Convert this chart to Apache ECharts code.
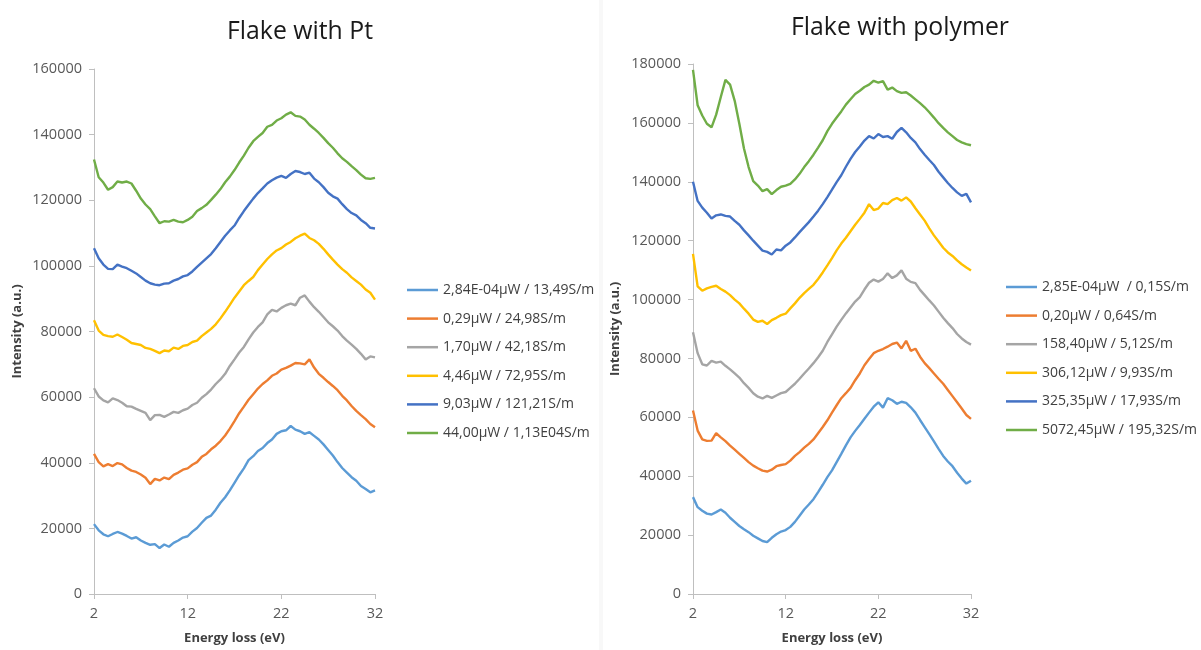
<!DOCTYPE html>
<html>
<head>
<meta charset="utf-8">
<script src="https://cdn.jsdelivr.net/npm/echarts@6/dist/echarts.min.js"></script>
<style>
html,body{margin:0;padding:0;background:#fff;}
#chart{width:1201px;height:650px;}
</style>
</head>
<body>
<div id="chart"></div>
<script>
// Energy loss (eV)
const energy = [2,2.5,3,3.5,4,4.5,5,5.5,6,6.5,7,7.5,8,8.5,9,9.5,10,10.5,11,11.5,12,12.5,13,13.5,14,14.5,15,15.5,16,16.5,17,17.5,18,18.5,19,19.5,20,20.5,21,21.5,22,22.5,23,23.5,24,24.5,25,25.5,26,26.5,27,27.5,28,28.5,29,29.5,30,30.5,31,31.5,32];
const xTicks = [2, 12, 22, 32];

// Left panel: Flake with Pt
const ptNames = ["2,84E-04µW / 13,49S/m","0,29µW / 24,98S/m","1,70µW / 42,18S/m","4,46µW / 72,95S/m","9,03µW / 121,21S/m","44,00µW / 1,13E04S/m"];
const pt1 = [21300,19400,18200,17600,18300,18900,18400,17700,16900,17300,16300,15600,15000,15200,14000,15100,14400,15600,16300,17200,17600,19000,20100,21700,23200,23900,25700,27800,29500,31600,33900,36200,38300,40800,42000,43600,44500,46000,47100,48800,49600,49900,51200,50100,49600,48800,49300,48200,47100,45600,43900,42200,40200,38400,37000,35600,34500,32900,32000,31000,31600];
const pt2 = [42700,40200,38900,39600,39000,39900,39500,38400,37600,37200,36400,35400,33500,35100,34600,35500,35000,36300,37000,37900,38300,39400,40200,41800,42700,44100,45200,46600,48300,50400,52700,55100,57100,59200,60900,62600,64000,65100,66500,67200,68400,68900,69600,70400,70300,70000,71500,69000,67100,65900,64600,63400,62100,60400,59000,57300,55800,54500,53300,51800,50800];
const pt3 = [62700,60200,59000,58400,59600,59100,58300,57200,57100,56400,55800,55200,53000,54500,54600,54000,54700,55500,55200,56000,56500,57600,58300,59800,60900,62300,64000,65400,67100,69500,71500,73600,75300,77600,79700,81400,82800,85200,86600,86100,87200,88000,88500,88000,90300,91000,89100,87400,86000,84400,82800,81600,80300,78600,77200,76000,74700,73200,71500,72400,72100];
const pt4 = [83400,80300,79000,78600,78400,79100,78300,77500,76500,76200,75900,75000,74700,74100,73400,74200,74000,75100,74700,75600,75900,76800,77200,78600,79700,80800,82200,84000,86000,88100,90300,92200,94100,95400,96600,98700,100400,102100,103500,104700,105400,106500,107300,108400,109200,109800,108500,107800,106700,105200,103500,101900,100400,99000,97900,96500,95400,94300,92800,91800,89700];
const pt5 = [105400,102300,100400,99100,99000,100400,99800,99300,98500,97700,96600,95500,94700,94300,94100,94600,94700,95500,96000,96800,97200,98300,99700,101000,102300,103600,105400,107300,109200,110800,112300,114600,116700,118600,120500,122200,123600,125100,126100,126900,127400,126800,128000,128900,128600,128000,128400,126600,125500,124000,122300,121200,120500,118800,117300,116100,115400,114000,113000,111600,111400];
const pt6 = [132400,127000,125400,123200,124000,125700,125400,125700,125100,122900,120500,118700,117300,115100,113000,113600,113500,114000,113500,113300,114000,115000,116700,117600,118600,120100,121700,123400,125500,127200,129200,131500,133600,136000,138000,139300,140500,142400,143000,144300,145000,146100,146800,145700,145500,144600,143000,141800,140500,139000,137400,136000,134300,132800,131700,130400,129200,127800,126700,126500,126800];

// Right panel: Flake with polymer
const polyNames = ["2,85E-04µW  / 0,15S/m","0,20µW / 0,64S/m","158,40µW / 5,12S/m","306,12µW / 9,93S/m","325,35µW / 17,93S/m","5072,45µW / 195,32S/m"];
const po1 = [32900,29500,28300,27300,27000,27800,28700,27600,25900,24500,23100,22000,21000,19800,18900,18000,17600,19100,20300,21200,21700,22800,24500,26600,28700,30400,32200,34600,37100,39700,42000,44800,47600,50500,53200,55400,57400,59500,61600,63600,65100,63300,66500,65800,64600,65300,64900,63400,61600,59100,56700,54300,51800,49300,46900,45000,43400,41200,39200,37500,38500];
const po2 = [62300,55500,52500,52000,52100,54600,53200,51900,50400,49000,47600,46200,44800,43600,42700,41900,41600,42200,43400,43800,44100,45300,46900,48200,49700,51000,52500,54600,56700,59000,61600,64100,66500,68200,70000,72600,74900,77700,79800,81800,82600,83200,84000,84900,85400,83400,86000,82600,83300,80600,78400,76700,74900,73100,71400,69300,67200,65100,63000,60800,59500];
const po3 = [88900,81800,78000,77600,79200,78600,78900,77500,76300,74900,73500,71600,70000,68200,67000,66400,67300,66600,67400,68200,68600,70000,71400,73100,74900,76600,78400,80400,82600,85600,88200,90800,93100,95300,97300,99300,100800,103400,105700,106800,106100,107000,108900,107300,108200,109900,107100,106000,105600,103300,101500,99700,98000,95900,93800,92000,90300,88300,86800,85600,84700];
const po4 = [115500,104500,103000,103800,104300,104700,103600,102700,101500,100000,98700,96900,95200,93200,92400,92800,91700,93000,93800,94700,95200,97000,98700,100600,102200,103600,105000,107000,109200,111600,114100,116700,119000,121000,123200,125400,127400,129500,132400,130400,130900,132800,132400,133800,134500,133600,134700,133300,131000,128900,126800,124200,121800,119700,117600,116000,114800,113300,112000,110900,109900];
const po5 = [140000,133500,131200,129500,127500,128600,128900,128400,128200,126700,125400,123500,121800,120000,118300,116600,116200,115300,117000,116700,118300,119400,121100,122900,124600,126300,128200,130200,132400,134800,137300,139900,142200,145100,147800,150100,152000,154000,155500,154700,156200,155200,155500,154600,156900,158300,156800,154900,153400,151100,149200,147400,145700,143400,141500,139600,137900,136400,135200,135900,133000];
const po6 = [178000,166000,162500,159700,158500,162800,168800,174600,173000,167500,159700,151300,145000,140200,138700,136800,137500,135800,137200,138300,138700,139300,140800,142700,145000,147000,149200,151600,154100,157200,159700,161800,163900,166200,168000,169800,170900,172200,173000,174300,173700,174200,171300,172000,170800,170200,170400,169300,168000,166700,165300,163600,161800,159900,158300,156800,155500,154200,153400,152800,152400];

const colors = ["#5B9BD5","#ED7D31","#A5A5A5","#FFC000","#4472C4","#70AD47"];
const FONT = "'Open Sans', sans-serif";

const ptSeries = [pt1,pt2,pt3,pt4,pt5,pt6];
const polySeries = [po1,po2,po3,po4,po5,po6];

function mkSeries(names, arrs, idx) {
  return arrs.map((vals, i) => ({
    name: names[i],
    type: 'line',
    xAxisIndex: idx,
    yAxisIndex: idx,
    symbol: 'none',
    smooth: false,
    data: energy.map((e, k) => [e, vals[k]]),
    lineStyle: { width: 2.4, color: colors[i] },
    itemStyle: { color: colors[i] },
    emphasis: { disabled: true },
    z: 2
  }));
}

function xAx(gi) {
  return {
    type: 'value', gridIndex: gi, min: 2, max: 32,
    name: 'Energy loss (eV)', nameLocation: 'middle', nameGap: 38,
    nameTextStyle: { fontFamily: FONT, fontSize: 13, fontWeight: 'bold', color: '#404040' },
    axisLine: { show: true, onZero: false, lineStyle: { color: '#bfbfbf', width: 1 } },
    axisTick: { show: true, customValues: xTicks, length: 5, lineStyle: { color: '#bfbfbf' } },
    axisLabel: { customValues: xTicks, fontFamily: FONT, fontSize: 14.5, color: '#595959', margin: 12 },
    splitLine: { show: false }
  };
}
function yAx(gi, max, gap) {
  return {
    type: 'value', gridIndex: gi, min: 0, max: max, interval: 20000,
    name: 'Intensity (a.u.)', nameLocation: 'middle', nameGap: gap, nameRotate: 90,
    nameTextStyle: { fontFamily: FONT, fontSize: 13, fontWeight: 'bold', color: '#404040' },
    axisLine: { show: true, lineStyle: { color: '#bfbfbf', width: 1 } },
    axisTick: { show: true, length: 5, lineStyle: { color: '#bfbfbf' } },
    axisLabel: { fontFamily: FONT, fontSize: 14.5, color: '#595959', margin: 12, formatter: v => String(v) },
    splitLine: { show: false }
  };
}
function legend(names, left, top) {
  return {
    data: names, orient: 'vertical', left: left, top: top,
    icon: 'rect',
    itemWidth: 31, itemHeight: 2.5, itemGap: 14.6,
    textStyle: { fontFamily: FONT, fontSize: 14, color: '#404040', lineHeight: 14 },
    selectedMode: false
  };
}

const chart = echarts.init(document.getElementById('chart'), null, { renderer: 'canvas' });
chart.setOption({
  backgroundColor: '#ffffff',
  animation: false,
  title: [
    { text: 'Flake with Pt', left: 295, top: 14, textAlign: 'center',
      textStyle: { fontFamily: FONT, fontSize: 24.8, fontWeight: 'normal', color: '#1a1a1a' } },
    { text: 'Flake with polymer', left: 895, top: 10, textAlign: 'center',
      textStyle: { fontFamily: FONT, fontSize: 24.8, fontWeight: 'normal', color: '#1a1a1a' } }
  ],
  legend: [ legend(ptNames, 402, 278), legend(polyNames, 1001, 275) ],
  grid: [
    { left: 94, top: 69, width: 281, height: 528, containLabel: false },
    { left: 693, top: 64, width: 278, height: 533, containLabel: false }
  ],
  xAxis: [ xAx(0), xAx(1) ],
  yAxis: [ yAx(0, 160000, 70), yAx(1, 180000, 71) ],
  graphic: [
    { type: 'rect', shape: { x: 599, y: 0, width: 4, height: 650 }, style: { fill: '#f8f8f8' }, silent: true, z: -1 }
  ],
  series: mkSeries(ptNames, ptSeries, 0).concat(mkSeries(polyNames, polySeries, 1))
});
</script>
</body>
</html>
